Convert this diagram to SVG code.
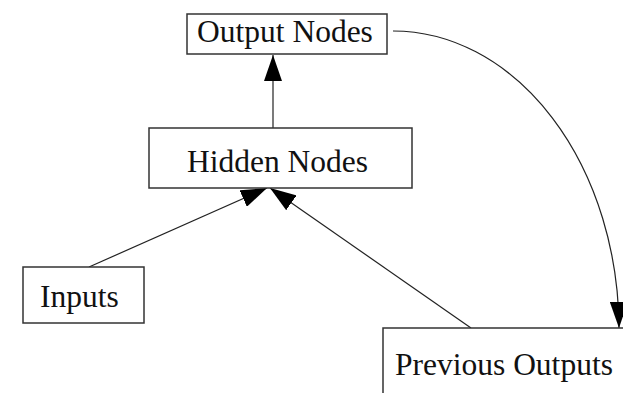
<svg xmlns="http://www.w3.org/2000/svg" width="623" height="393" viewBox="0 0 623 393">
  <style>
    .box { fill: #ffffff; stroke: #333333; stroke-width: 1.5; }
    .label { font-family: "Liberation Serif", "Times New Roman", serif; font-size: 31.5px; fill: #111111; }
    .edge { fill: none; stroke: #222222; stroke-width: 1.2; }
  </style>
  <defs>
    <marker id="arrow" viewBox="0 0 26 18" refX="26" refY="9" markerWidth="26" markerHeight="18" markerUnits="userSpaceOnUse" orient="auto">
      <path d="M0,0 L26,9 L0,18 Z" fill="#000000"/>
    </marker>
  </defs>

  <rect width="623" height="393" fill="#ffffff"/>

  <g id="connectors">
    <line class="edge" x1="273" y1="128" x2="273" y2="55" marker-end="url(#arrow)"/>
    <line class="edge" x1="89" y1="267" x2="267" y2="188" marker-end="url(#arrow)"/>
    <line class="edge" x1="471" y1="328" x2="270" y2="188" marker-end="url(#arrow)"/>
    <path class="edge" d="M393,31 A226,299 0 0 1 619,328" marker-end="url(#arrow)"/>
  </g>

  <g id="output-nodes">
    <rect class="box" x="187" y="14" width="200" height="40"/>
    <text class="label" x="197" y="42">Output Nodes</text>
  </g>

  <g id="hidden-nodes">
    <rect class="box" x="149" y="128" width="263" height="60"/>
    <text class="label" x="187" y="172">Hidden Nodes</text>
  </g>

  <g id="inputs">
    <rect class="box" x="23" y="267" width="121" height="56"/>
    <text class="label" x="40" y="307">Inputs</text>
  </g>

  <g id="previous-outputs">
    <rect class="box" x="383" y="328" width="260" height="80"/>
    <text class="label" x="395" y="375">Previous Outputs</text>
  </g>
</svg>
